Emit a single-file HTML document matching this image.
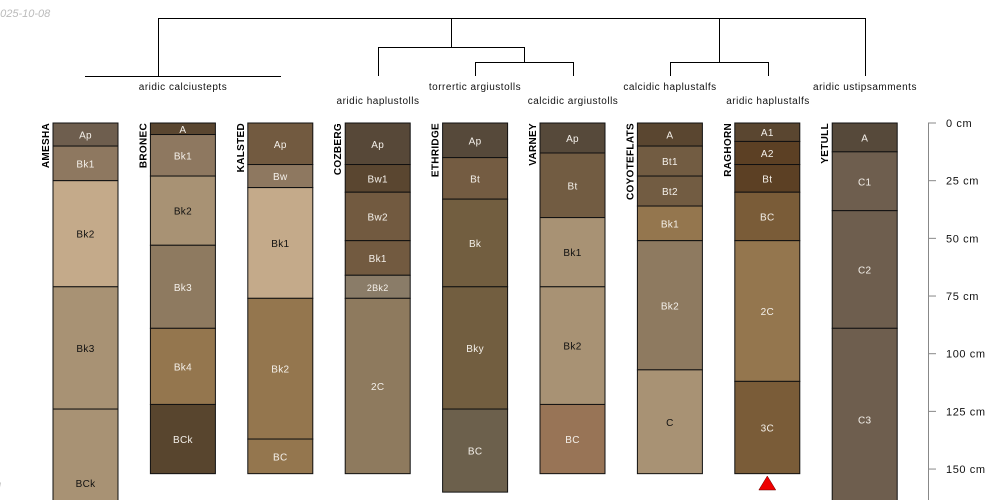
<!DOCTYPE html>
<html><head><meta charset="utf-8"><style>
html,body{margin:0;background:#fff;width:1000px;height:500px;overflow:hidden}
svg{display:block;font-family:"Liberation Sans",sans-serif}
</style></head><body>
<svg id="c" width="1000" height="500" viewBox="0 0 1000 500" overflow="hidden">
<text x="-6" y="17" font-size="11" font-style="italic" fill="#bbb">2025-10-08</text>
<text x="-2" y="490" font-size="11" font-style="italic" fill="#bbb">I</text>
<g id="dendro" stroke="#000" stroke-width="1" fill="none">
<path d="M158.5 18.5H865.5M158.5 18V76M85 76.5H281M451.5 18V47M378 47.5H524M378.5 47V76M524.5 47V62M475 62.5H573M475.5 62V76M573.5 62V76M719.5 18V62M670 62.5H768M670.5 62V76M768.5 62V76M865.5 18V76"/>
</g>
</svg>
<script>
const profileNames=["AMESHA","BRONEC","KALSTED","COZBERG","ETHRIDGE","VARNEY","COYOTEFLATS","RAGHORN","YETULL"];
const horizonNames=[["Ap","Bk1","Bk2","Bk3","BCk"],["A","Bk1","Bk2","Bk3","Bk4","BCk"],["Ap","Bw","Bk1","Bk2","BC"],["Ap","Bw1","Bw2","Bk1","2Bk2","2C"],["Ap","Bt","Bk","Bky","BC"],["Ap","Bt","Bk1","Bk2","BC"],["A","Bt1","Bt2","Bk1","Bk2","C"],["A1","A2","Bt","BC","2C","3C"],["A","C1","C2","C3"]];
const horizonBottoms=[[10,25,71,124,188],[5,23,53,89,122,152],[18,28,76,137,152],[18,30,51,66,76,152],[15,33,71,124,160],[13,41,71,122,152],[10,23,36,51,107,152],[8,18,30,51,112,152],[12.5,38,89,168]];
const horizonColors=[["#6e5e4e","#8e7860","#c4aa8a","#a89274","#a89274"],["#5a4630","#8e7860","#a89274","#8e7a60","#94764e","#58452e"],["#725a40","#8e7860","#c4aa8a","#94764e","#94764e"],["#574838","#5a4630","#725a40","#725a40","#8a7c68","#8e7a5e"],["#56493a","#745c42","#725e40","#725e40","#6c604c"],["#56493a","#725c42","#a89274","#a89274","#987456"],["#5a4630","#725c42","#725c42","#94764e","#8e7a60","#a89274"],["#5a4630","#5c4024","#5c4024","#7a5c38","#94764e","#7a5c38"],["#56493a","#6e5e4e","#6e5e4e","#6e5e4e"]];
const darkLabel=[[0,0,1,1,1],[0,0,1,0,0,0],[0,0,1,0,0],[0,0,0,0,0,0],[0,0,0,0,0],[0,0,1,1,0],[0,0,0,0,0,1],[0,0,0,0,0,0],[0,0,0,0]];
const taxa=["aridic calciustepts","aridic haplustolls","torrertic argiustolls","calcidic argiustolls","calcidic haplustalfs","aridic haplustalfs","aridic ustipsamments"];
const taxaX=[183,378,475,573,670,768,865];
const taxaRow=[0,1,0,1,0,1,0];
const depthTicks=[0,25,50,75,100,125,150];
const svg=document.getElementById('c');const NS="http://www.w3.org/2000/svg";
const y=d=>123+d*2.307;
const px=i=>53+i*97.4;
function mk(t,a,p){const e=document.createElementNS(NS,t);for(const k in a)e.setAttribute(k,a[k]);(p||svg).appendChild(e);return e;}
profileNames.forEach((n,i)=>{
 const g=mk('g',{});
 
 
 const x=px(i);let top=0;
 horizonBottoms[i].forEach((b,j)=>{
  const bot=Math.min(y(b),502);
  const r=mk('rect',{x:x,y:y(top),width:65,height:bot-y(top),fill:horizonColors[i][j],stroke:'#111','stroke-width':1},g);
  
  
  const t=mk('text',{x:x+32.5,y:(y(top)+y(b))/2+4,'font-size':horizonNames[i][j]=='2Bk2'?9:10,'text-anchor':'middle','letter-spacing':0.3,fill:darkLabel[i][j]?'#111':'#f4f0ea'},g);
  t.textContent=horizonNames[i][j];
  
  
  top=b;
 });
 const nt=mk('text',{x:0,y:0,transform:`translate(${x-4},123) rotate(-90)`,'font-size':10,'font-weight':'bold','text-anchor':'end','letter-spacing':0.3},g);
 nt.textContent=n;
 
 
});
const tri=mk('path',{d:`M${px(7)+32.5} 476L${px(7)+41} 490H${px(7)+24}Z`,fill:'#e00',stroke:'#600','stroke-width':0.5});


taxa.forEach((t,i)=>{
 const e=mk('text',{x:taxaX[i],y:taxaRow[i]?104:90,'font-size':10,'text-anchor':'middle','letter-spacing':0.5,fill:'#111'});
 e.textContent=t;
 
 
});
const ax=mk('g',{});


mk('line',{x1:928.5,x2:928.5,y1:123,y2:500,stroke:'#888','stroke-width':1},ax);
depthTicks.forEach(d=>{
 mk('line',{x1:928,x2:936,y1:y(d),y2:y(d),stroke:'#888'},ax);
 const t=mk('text',{x:946,y:y(d)+4,'font-size':11,'letter-spacing':0.6,fill:'#111'},ax);
 t.textContent=d+' cm';
 
 
});
</script>
</body></html>
